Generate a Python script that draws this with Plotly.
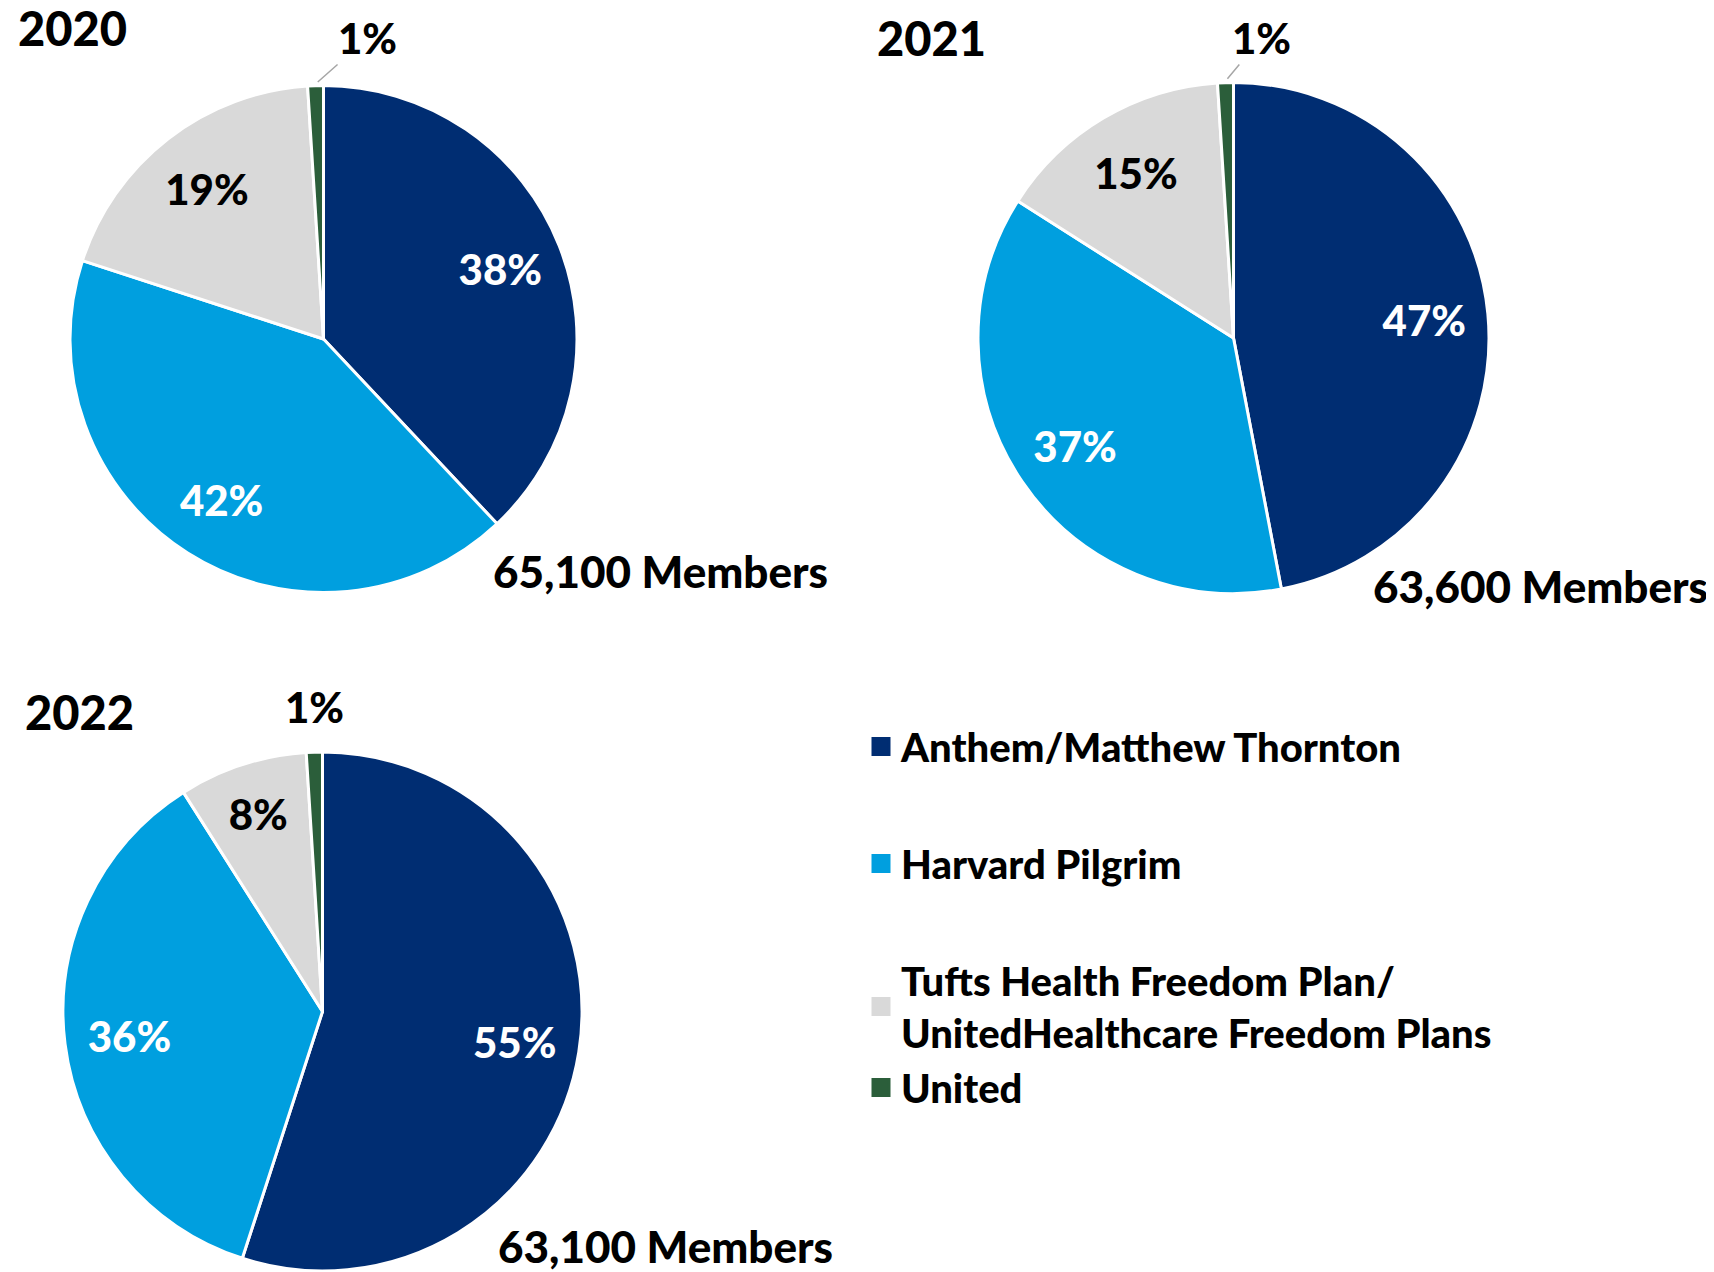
import plotly.graph_objects as go


# =============================
# Data
# =============================
plans = [
    "Anthem/Matthew Thornton",
    "Harvard Pilgrim",
    "Tufts Health Freedom Plan/<br>UnitedHealthcare Freedom Plans",
    "United",
]
colors = ["#002D72", "#009FDF", "#D9D9D9", "#2B5E3A"]

years = ["2020", "2021", "2022"]
share_2020 = [38, 42, 19, 1]
share_2021 = [47, 37, 15, 1]
share_2022 = [55, 36, 8, 1]
members = ["65,100 Members", "63,600 Members", "63,100 Members"]

FONT = "Lato, sans-serif"
W, H = 1714, 1272
PAGE_PAD = 8   # body margin of the html page


def px_x(v):
    return (v - PAGE_PAD) / W


def px_y(v):
    return 1 - (v - PAGE_PAD) / H


# pie boxes in pixels (left, right, top, bottom)
boxes = [
    (70, 577, 84, 594),
    (978, 1489, 81, 595),
    (62, 583, 752, 1271),
]

fig = go.Figure()

for shares, box in zip([share_2020, share_2021, share_2022], boxes):
    left, right, top, bottom = box
    dom = dict(x=[px_x(left), px_x(right)], y=[px_y(bottom), px_y(top)])

    # the slices
    fig.add_trace(go.Pie(
        labels=plans,
        values=shares,
        sort=False,
        direction="clockwise",
        rotation=0,
        marker=dict(colors=colors, line=dict(color="white", width=3)),
        textinfo="none",
        hoverinfo="label+percent",
        showlegend=False,
        domain=dom,
    ))

    # transparent ring on top, only to push the % labels outwards
    fig.add_trace(go.Pie(
        labels=plans,
        values=shares,
        sort=False,
        direction="clockwise",
        rotation=0,
        hole=0.5,
        marker=dict(colors=["rgba(0,0,0,0)"] * 4, line=dict(width=0)),
        texttemplate="%{value}%",
        textposition=["inside", "inside", "inside", "none"],
        insidetextorientation="horizontal",
        insidetextfont=dict(family=FONT, size=42, weight=900,
                            color=["white", "white", "black", "black"]),
        hoverinfo="skip",
        showlegend=False,
        domain=dom,
    ))


# legend built from dummy traces so spacing can be controlled
groups = ["a", "h", "t", "t"]
for name, col, grp in zip(plans, colors, groups):
    fig.add_trace(go.Scatter(
        x=[None], y=[None],
        mode="markers",
        marker=dict(symbol="square", size=16, color=col,
                    line=dict(color=col, width=3)),
        name=name,
        legendgroup=grp,
        showlegend=True,
    ))


# =============================
# Text
# =============================
title_pos = [(16, 28), (875, 38), (23, 712)]
member_pos = [(491, 571), (1371, 586), (496, 1246)]

annotations = []
for yr, (x, y) in zip(years, title_pos):
    annotations.append(dict(
        text=yr, x=px_x(x), y=px_y(y), xref="paper", yref="paper",
        xanchor="left", yanchor="middle", showarrow=False,
        font=dict(family=FONT, size=47, weight=900, color="black"),
    ))

for txt, (x, y) in zip(members, member_pos):
    annotations.append(dict(
        text=txt, x=px_x(x), y=px_y(y), xref="paper", yref="paper",
        xanchor="left", yanchor="middle", showarrow=False,
        font=dict(family=FONT, size=44, weight=900, color="black"),
    ))

# small "United" share sits above each pie (leader lines on the first two)
small_offsets = [(52, -46, True), (36, -43, True), (0, 0, False)]
for shares, box, (ax, ay, leader) in zip([share_2020, share_2021, share_2022],
                                         boxes, small_offsets):
    left, right, top, bottom = box
    annotations.append(dict(
        text=f"{shares[3]}%",
        x=px_x((left + right) / 2 - 8), y=px_y(top),
        xref="paper", yref="paper",
        xanchor="center",
        ax=ax, ay=ay,
        showarrow=leader, arrowhead=0, arrowwidth=1.5, arrowcolor="#A6A6A6",
        standoff=3,
        yshift=0 if leader else 45,
        font=dict(family=FONT, size=42, weight=900, color="black"),
    ))


fig.update_layout(
    width=W,
    height=H,
    margin=dict(l=0, r=0, t=0, b=0),
    paper_bgcolor="white",
    plot_bgcolor="white",
    uniformtext=dict(minsize=42, mode="show"),
    xaxis=dict(visible=False),
    yaxis=dict(visible=False),
    annotations=annotations,
    legend=dict(
        x=px_x(861), y=px_y(714),
        xanchor="left", yanchor="top",
        font=dict(family=FONT, size=40, weight=900, color="black"),
        tracegroupgap=62,
        itemclick=False,
        bgcolor="rgba(0,0,0,0)",
    ),
)

fig.write_html("out.html")
